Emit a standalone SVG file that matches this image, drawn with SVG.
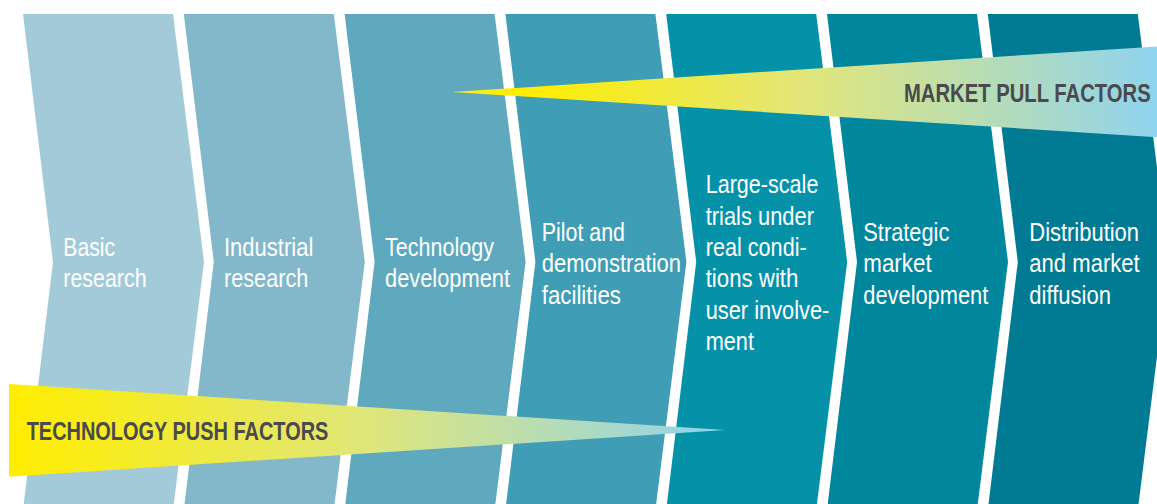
<svg xmlns="http://www.w3.org/2000/svg" width="1157" height="504" viewBox="0 0 1157 504">
<defs>
<style>
.lbl{font-family:"Liberation Sans",Arial,sans-serif;font-size:26px;fill:#ffffff;}
.fac{font-family:"Liberation Sans",Arial,sans-serif;font-size:26px;font-weight:bold;fill:#4a4a4c;}
</style>
<linearGradient id="gPush" gradientUnits="userSpaceOnUse" x1="9" y1="0" x2="725" y2="0">
<stop offset="0" stop-color="#ffed00"/>
<stop offset="0.12" stop-color="#f8ec1c"/>
<stop offset="0.5" stop-color="#dfe67a"/>
<stop offset="1" stop-color="#8fd3ee"/>
</linearGradient>
<linearGradient id="gPull" gradientUnits="userSpaceOnUse" x1="452" y1="0" x2="1157" y2="0">
<stop offset="0" stop-color="#fdee20"/>
<stop offset="0.1" stop-color="#ffed00"/>
<stop offset="0.5" stop-color="#e2e67a"/>
<stop offset="1" stop-color="#8fd3ee"/>
</linearGradient>
</defs>
<rect x="0" y="0" width="1157" height="504" fill="#ffffff"/>

<g id="node1">
<polygon points="23,14 173,14 204,262 173,510 23,510 53,262" fill="#a3cad8"/>
<text class="lbl"><tspan x="63.3" y="256" textLength="51.7" lengthAdjust="spacingAndGlyphs">Basic</tspan><tspan x="63.3" y="287.3" textLength="83.3" lengthAdjust="spacingAndGlyphs">research</tspan></text>
</g>
<g id="node2">
<polygon points="183.8,14 333.8,14 364.8,262 333.8,510 183.8,510 213.8,262" fill="#82b8c9"/>
<text class="lbl"><tspan x="224" y="256" textLength="89.3" lengthAdjust="spacingAndGlyphs">Industrial</tspan><tspan x="224" y="287.3" textLength="84.3" lengthAdjust="spacingAndGlyphs">research</tspan></text>
</g>
<g id="node3">
<polygon points="344.6,14 494.6,14 525.6,262 494.6,510 344.6,510 374.6,262" fill="#5ea9be"/>
<text class="lbl"><tspan x="385" y="256" textLength="109" lengthAdjust="spacingAndGlyphs">Technology</tspan><tspan x="385" y="287.3" textLength="125" lengthAdjust="spacingAndGlyphs">development</tspan></text>
</g>
<g id="node4">
<polygon points="505.4,14 655.4,14 686.4,262 655.4,510 505.4,510 535.4,262" fill="#3f9eb5"/>
<text class="lbl"><tspan x="541.7" y="240.7" textLength="83.3" lengthAdjust="spacingAndGlyphs">Pilot and</tspan><tspan x="541.7" y="272.3" textLength="139.3" lengthAdjust="spacingAndGlyphs">demonstration</tspan><tspan x="541.7" y="304" textLength="79.3" lengthAdjust="spacingAndGlyphs">facilities</tspan></text>
</g>
<g id="node5">
<polygon points="666.2,14 816.2,14 847.2,262 816.2,510 666.2,510 696.2,262" fill="#0592a9"/>
<text class="lbl"><tspan x="705.7" y="193.3" textLength="112.7" lengthAdjust="spacingAndGlyphs">Large-scale</tspan><tspan x="705.7" y="224.5" textLength="108.3" lengthAdjust="spacingAndGlyphs">trials under</tspan><tspan x="705.7" y="255.7" textLength="101" lengthAdjust="spacingAndGlyphs">real condi-</tspan><tspan x="705.7" y="287.3" textLength="92.7" lengthAdjust="spacingAndGlyphs">tions with</tspan><tspan x="705.7" y="318.7" textLength="123.7" lengthAdjust="spacingAndGlyphs">user involve-</tspan><tspan x="705.7" y="350" textLength="48.3" lengthAdjust="spacingAndGlyphs">ment</tspan></text>
</g>
<g id="node6">
<polygon points="827,14 977,14 1008,262 977,510 827,510 857,262" fill="#00869d"/>
<text class="lbl"><tspan x="863.3" y="240.7" textLength="86" lengthAdjust="spacingAndGlyphs">Strategic</tspan><tspan x="863.3" y="272.3" textLength="68.3" lengthAdjust="spacingAndGlyphs">market</tspan><tspan x="863.3" y="304" textLength="125" lengthAdjust="spacingAndGlyphs">development</tspan></text>
</g>
<g id="node7">
<polygon points="987.8,14 1137.8,14 1168.8,262 1137.8,510 987.8,510 1017.8,262" fill="#007b93"/>
<text class="lbl"><tspan x="1029.3" y="240.7" textLength="109.7" lengthAdjust="spacingAndGlyphs">Distribution</tspan><tspan x="1029.3" y="272.3" textLength="110.4" lengthAdjust="spacingAndGlyphs">and market</tspan><tspan x="1029.3" y="304" textLength="81.7" lengthAdjust="spacingAndGlyphs">diffusion</tspan></text>
</g>

<g id="connectors">
<g id="market-pull">
<polygon points="452,92 1157,46.5 1157,137.3" fill="url(#gPull)"/>
<text class="fac" x="904" y="101.5" textLength="246.7" lengthAdjust="spacingAndGlyphs">MARKET PULL FACTORS</text>
</g>
<g id="technology-push">
<polygon points="9,384 725,430 9,476.7" fill="url(#gPush)"/>
<text class="fac" x="26.7" y="440" textLength="301.7" lengthAdjust="spacingAndGlyphs">TECHNOLOGY PUSH FACTORS</text>
</g>
</g>
</svg>
